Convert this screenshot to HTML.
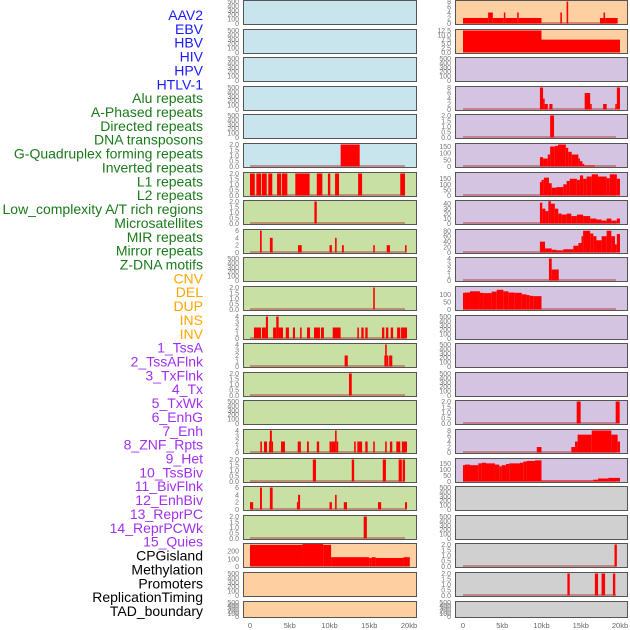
<!DOCTYPE html>
<html><head><meta charset="utf-8"><style>
html,body{margin:0;padding:0;background:#fff;}
svg{display:block;font-family:"Liberation Sans",sans-serif;}
</style></head><body>
<svg id="chart" width="630" height="630" viewBox="0 0 630 630" xmlns="http://www.w3.org/2000/svg">
<g id="labels"></g>
<g id="panels"></g>
<g id="xaxes"></g>
</svg>
<script>
// ---- data ----
const trackLabels = ["AAV2","EBV","HBV","HIV","HPV","HTLV-1","Alu repeats","A-Phased repeats","Directed repeats","DNA transposons","G-Quadruplex forming repeats","Inverted repeats","L1 repeats","L2 repeats","Low_complexity A/T rich regions","Microsatellites","MIR repeats","Mirror repeats","Z-DNA motifs","CNV","DEL","DUP","INS","INV","1_TssA","2_TssAFlnk","3_TxFlnk","4_Tx","5_TxWk","6_EnhG","7_Enh","8_ZNF_Rpts","9_Het","10_TssBiv","11_BivFlnk","12_EnhBiv","13_ReprPC","14_ReprPCWk","15_Quies","CPGisland","Methylation","Promoters","ReplicationTiming","TAD_boundary"];
const labelColors = ["#1a1aff","#1a1aff","#1a1aff","#1a1aff","#1a1aff","#1a1aff","#1a7a1a","#1a7a1a","#1a7a1a","#1a7a1a","#1a7a1a","#1a7a1a","#1a7a1a","#1a7a1a","#1a7a1a","#1a7a1a","#1a7a1a","#1a7a1a","#1a7a1a","#ffa500","#ffa500","#ffa500","#ffa500","#ffa500","#a030f0","#a030f0","#a030f0","#a030f0","#a030f0","#a030f0","#a030f0","#a030f0","#a030f0","#a030f0","#a030f0","#a030f0","#a030f0","#a030f0","#a030f0","#000","#000","#000","#000","#000"];
const xTickValues = [0,5,10,15,20];
const xTickLabels = ["0","5kb","10kb","15kb","20kb"];
const ticks500 = [0,100,200,300,400,500];
const ticks2 = [0,0.5,1.0,1.5,2.0];
const ticks4 = [0,1,2,3,4];
const ticks6 = [0,2,4,6];
const ticks8 = [0,2,4,6,8];

// segments: [startKb, endKb, value]
const mid5 = [[11.4,13.8,2]];
const mid6 = [[0,0.6,2],[0.8,1.4,2],[1.5,2.1,2],[2.3,2.8,2],[3.4,3.9,2],[4.0,4.7,2],[5.7,7.5,2],[8.4,9.1,2],[9.8,10.1,2],[10.7,11.2,2],[13.6,14.1,2],[18.9,19.5,2]];
const mid7 = [[8.1,8.4,2]];
const mid8 = [[1.26,1.47,6],[2.5,2.85,4],[6.04,6.5,2],[10.0,10.3,2],[10.7,10.9,4],[11.57,11.8,2],[15.5,15.7,2],[17.2,17.6,2],[19.5,19.7,2]];
const mid10 = [[15.5,15.7,2]];
const mid11 = [[0.5,1.38,2],[1.5,2.0,2],[2.0,2.26,4],[2.9,3.3,2],[3.3,3.6,4],[3.6,4.15,2],[4.5,4.9,2],[5.4,5.66,2],[6.3,6.5,2],[7.17,7.55,2],[8.05,8.8,2],[8.93,9.3,2],[10.4,11.4,2],[13.5,13.7,2],[14.0,14.3,2],[14.5,14.8,2],[16.6,16.9,2],[17.1,17.4,2],[17.7,18.0,2],[18.5,18.9,2],[19.0,19.75,2]];
const mid12 = [[11.9,12.3,2],[16.9,17.0,2],[17.0,17.2,4],[17.2,17.4,2],[17.5,17.9,2]];
const mid13 = [[12.45,12.8,2]];
const mid15 = [[1.3,1.5,2],[1.76,2.14,2],[2.4,2.5,2],[2.5,2.75,4],[2.75,2.85,2],[3.9,4.4,2],[6.0,6.4,2],[7.17,7.4,2],[8.4,8.7,2],[10.0,10.3,2],[10.3,10.7,2],[10.7,10.9,4],[10.9,11.1,2],[13.1,13.3,2],[13.5,14.1,2],[14.5,14.8,2],[15.5,15.7,2],[17.0,17.2,2],[17.6,17.9,2],[18.4,18.9,2],[19.1,19.75,2]];
const mid16 = [[7.9,8.3,2],[12.8,13.1,2],[16.7,17.1,2],[18.7,19.1,2],[19.2,19.5,2]];
const mid17 = [[0,0.4,2],[1.26,1.5,6],[2.5,2.85,6],[5.9,6.05,2],[6.05,6.3,4],[10.0,10.3,2],[10.7,10.9,4],[11.8,12.2,2],[16.1,16.5,2],[19.5,19.75,2]];
const mid18 = [[14.3,14.7,2]];
const mid19 = [[0,6.6,280],[6.6,9.2,290],[9.2,10.2,280],[10.2,15.0,120],[15.0,15.3,110],[15.3,15.8,120],[15.8,19.3,110],[19.3,20.1,120]];
const rgt0 = [[0,3.2,2],[3.2,3.8,4],[3.8,5.2,2],[5.2,5.4,4],[5.4,6.9,2],[6.9,7.1,4],[7.1,10.0,2],[12.4,12.6,4],[13.2,13.4,8],[17.45,17.9,2],[17.9,18.1,4],[18.1,19.7,2]];
const rgt1 = [[0,10,12.5],[10,20,7.3]];
const rgt3 = [[9.8,10.2,8],[10.2,10.4,4],[10.4,10.8,2],[11.0,11.4,2],[15.5,16.2,6],[16.2,16.4,2],[17.85,18.3,2],[19.4,19.6,2],[19.6,20.0,8]];
const rgt4 = [[11.1,11.6,2]];
const rgt5 = [[9.8,10.2,70],[10.2,10.8,60],[10.8,11.1,90],[11.1,11.7,150],[11.7,12.1,155],[12.1,13.1,165],[13.1,13.4,140],[13.4,13.85,110],[13.85,14.7,90],[14.7,14.9,60],[14.9,15.2,40],[15.2,15.45,20],[15.45,16.8,8]];
const rgt6 = [[9.8,10.0,120],[10.0,10.3,140],[10.3,10.95,160],[10.95,11.3,110],[11.3,11.9,70],[11.9,12.78,75],[12.78,13.2,100],[13.2,13.6,130],[13.6,14.5,150],[14.5,14.9,140],[14.9,15.3,180],[15.3,15.75,150],[15.75,16.4,170],[16.4,17.2,190],[17.2,18.3,170],[18.3,18.7,155],[18.7,19.6,190],[19.6,20.0,150]];
const rgt7 = [[9.8,10.1,42],[10.1,10.5,30],[10.5,10.87,25],[10.87,11.2,45],[11.2,11.7,40],[11.7,12.14,30],[12.14,12.57,20],[12.57,13.2,18],[13.2,13.8,20],[13.8,14.5,15],[14.5,15.3,18],[15.3,16.2,15],[16.2,17.0,10],[17.0,17.66,8],[17.66,18.3,6],[18.3,18.9,10],[18.9,19.6,6],[19.6,20.0,10]];
const rgt8 = [[9.8,10.45,40],[10.45,11.3,15],[11.3,11.9,10],[11.9,12.78,8],[12.78,14.05,12],[14.05,14.7,25],[14.7,15.1,35],[15.1,15.3,60],[15.3,16.2,80],[16.2,16.6,70],[16.6,17.0,60],[17.0,17.66,45],[17.66,18.3,60],[18.3,18.9,80],[18.9,19.36,60],[19.36,19.6,30],[19.6,20.0,68]];
const rgt9 = [[10.95,11.3,4],[11.3,12.2,2]];
const rgt10 = [[0,0.25,110],[0.25,0.89,112],[0.89,2.16,120],[2.16,2.6,110],[2.6,3.65,108],[3.65,4.3,118],[4.3,5.14,130],[5.14,5.78,120],[5.78,6.6,112],[6.6,7.5,110],[7.5,8.1,100],[8.1,8.5,95],[8.5,8.96,90],[8.96,10.0,88]];
const rgt14 = [[14.48,14.99,2],[19.45,19.96,2]];
const rgt15 = [[9.4,10.0,2],[13.8,14.27,2],[14.27,14.6,4],[14.6,16.4,6.5],[16.4,18.9,8],[18.9,19.7,6.5],[19.7,20.0,4]];
const rgt16 = [[0,0.25,135],[0.25,0.89,140],[0.89,1.95,135],[1.95,2.38,150],[2.38,2.93,155],[2.93,4.07,150],[4.07,4.63,140],[4.63,4.92,125],[4.92,5.48,135],[5.48,5.9,145],[5.9,7.26,150],[7.26,7.68,155],[7.68,8.1,165],[8.1,9.17,170],[9.17,10.0,175],[10.0,16.6,8],[16.6,17.2,15],[17.2,18.5,25],[18.5,20.0,30]];
const rgt19 = [[19.3,19.6,2]];
const rgt20 = [[13.3,13.6,2],[16.8,17.2,2],[17.65,18.1,2],[19.1,19.4,2]];

// panel config: [col, row, bgKey, yMax, ticks, segments, baseline]
const panelsCfg = [
 [0,0,"b",500,ticks500,[],0],[0,1,"b",500,ticks500,[],0],[0,2,"b",500,ticks500,[],0],[0,3,"b",500,ticks500,[],0],[0,4,"b",500,ticks500,[],0],
 [0,5,"b",2,ticks2,mid5,1],[0,6,"g",2,ticks2,mid6,1],[0,7,"g",2,ticks2,mid7,1],[0,8,"g",6,ticks6,mid8,1],[0,9,"g",500,ticks500,[],0],
 [0,10,"g",2,ticks2,mid10,1],[0,11,"g",4,ticks4,mid11,1],[0,12,"g",4,ticks4,mid12,1],[0,13,"g",2,ticks2,mid13,1],[0,14,"g",500,ticks500,[],0],
 [0,15,"g",4,ticks4,mid15,1],[0,16,"g",2,ticks2,mid16,1],[0,17,"g",6,ticks6,mid17,1],[0,18,"g",2,ticks2,mid18,1],
 [0,19,"o",284,[0,100,200],mid19,0],[0,20,"o",500,ticks500,[],0],[0,21,"o",500,ticks500,[],0],
 [1,0,"o",8,ticks8,rgt0,1],[1,1,"o",12.5,[0,2.5,5.0,7.5,10.0,12.5],rgt1,0],[1,2,"p",500,ticks500,[],0],[1,3,"p",8,ticks8,rgt3,1],[1,4,"p",2,ticks2,rgt4,1],
 [1,5,"p",165,[0,50,100,150],rgt5,1],[1,6,"p",197,[0,50,100,150],rgt6,1],[1,7,"p",44.4,[0,10,20,30,40],rgt7,1],[1,8,"p",81,[0,20,40,60,80],rgt8,1],
 [1,9,"p",4,ticks4,rgt9,1],[1,10,"p",145,[0,50,100],rgt10,1],[1,11,"p",500,ticks500,[],0],[1,12,"p",500,ticks500,[],0],[1,13,"p",500,ticks500,[],0],
 [1,14,"p",2,ticks2,rgt14,1],[1,15,"p",8,ticks8,rgt15,1],[1,16,"p",182,[0,50,100,150],rgt16,1],[1,17,"k",500,ticks500,[],0],[1,18,"k",500,ticks500,[],0],
 [1,19,"k",2,ticks2,rgt19,1],[1,20,"k",2,ticks2,rgt20,1],[1,21,"k",500,ticks500,[],0]
];

// ---- layout ----
const NS = "http://www.w3.org/2000/svg";
const bgColors = {b:"#c8e4ec",g:"#c8e0a4",o:"#fecfa0",p:"#d4c4e2",k:"#d0d0d0"};
const colBox = [{x0:243,x1:416,k0:250,k20:409},{x0:455,x1:627,k0:463,k20:620}];
function rowTop(r){ return Math.round(r*28.6); }
function rowH(r){ return r===21 ? 16 : 24; }
function xScale(c,kb){ const b=colBox[c]; return b.k0 + (b.k20-b.k0)*kb/20; }
function mk(tag,attrs,parent){ const e=document.createElementNS(NS,tag); for(const k in attrs) e.setAttribute(k,attrs[k]); parent.appendChild(e); return e; }
function fmt(v,t){ const dec = t.some(x=>x%1!==0); return dec ? v.toFixed(1) : String(v); }

const gl = document.getElementById("labels");
trackLabels.forEach((t,i)=>{
  const e = mk("text",{x:203,y:(20+i*13.86).toFixed(1),"text-anchor":"end","font-size":"14",fill:labelColors[i]},gl);
  
  
  e.textContent = t;
});

const gp = document.getElementById("panels");
panelsCfg.forEach(cfg=>{
  const [c,r,bg,ymax,ticks,segs,base] = cfg;
  const b = colBox[c], top = rowTop(r), h = rowH(r);
  const g = mk("g",{},gp);
  
  
  mk("rect",{x:b.x0+0.5,y:top+0.5,width:b.x1-b.x0,height:h,fill:bgColors[bg],stroke:"none"},g);
  const yTop = top+1.5, yBot = top+h-0.5;
  const yScale = v => yBot - (yBot-yTop)*v/ymax;
  if(base){
    const bl = mk("line",{x1:xScale(c,0),x2:xScale(c,19.5),y1:yBot-0.5,y2:yBot-0.5,stroke:"#b03030","stroke-width":1.5,"stroke-opacity":0.6},g);
    
    
  }
  segs.forEach(s=>{
    const x0=xScale(c,s[0]), x1=xScale(c,s[1]), y=Math.max(yScale(s[2]),top+1);
    const rc = mk("rect",{x:x0.toFixed(2),y:y.toFixed(2),width:Math.max(1.2,x1-x0).toFixed(2),height:(yBot-y).toFixed(2),fill:"#ff0000"},g);
    
    
  });
  mk("rect",{x:b.x0+0.5,y:top+0.5,width:b.x1-b.x0,height:h,fill:"none",stroke:"#555","stroke-width":1},g);
  ticks.forEach(t=>{
    const tx = mk("text",{x:b.x0-4,y:(yScale(t)+2.5).toFixed(1),"text-anchor":"end","font-size":"7",fill:"#777"},g);
    
    
    tx.textContent = fmt(t,ticks);
  });
});

const gx = document.getElementById("xaxes");
[0,1].forEach(c=>{
  xTickValues.forEach((v,i)=>{
    const tx = mk("text",{x:xScale(c,v),y:628,"text-anchor":"middle","font-size":"7.5",fill:"#666"},gx);
    
    
    tx.textContent = xTickLabels[i];
  });
});
</script>
</body></html>
